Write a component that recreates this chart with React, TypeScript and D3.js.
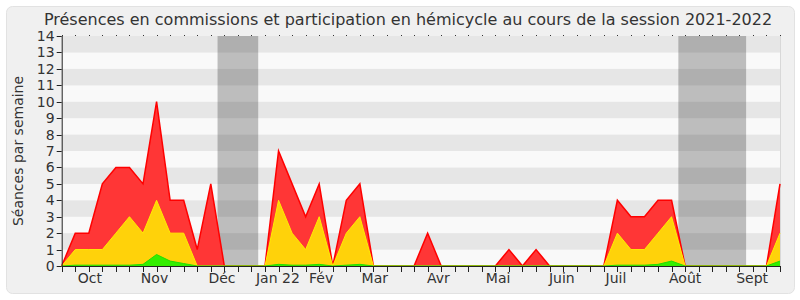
import React from "react";
import * as d3 from "d3";

const title = "Présences en commissions et participation en hémicycle au cours de la session 2021-2022";
const yTitle = "Séances par semaine";

// weekly values (54 weeks)
const hemicycle = [0,2,2,5,6,6,5,10,4,4,1,5,0,0,0,0,7,5,3,5,0,4,5,0,0,0,0,2,0,0,0,0,0,1,0,1,0,0,0,0,0,4,3,3,4,4,0,0,0,0,0,0,0,5];
const commissions = [0,1,1,1,2,3,2,4,2,2,0,0,0,0,0,0,4,2,1,3,0,2,3,0,0,0,0,0,0,0,0,0,0,0,0,0,0,0,0,0,0,2,1,1,2,3,0,0,0,0,0,0,0,2];
const interventions = [0,0.05,0.05,0.05,0.05,0.05,0.1,0.7,0.3,0.15,0,0,0,0,0,0,0.1,0.05,0.05,0.1,0,0.05,0.1,0,0,0,0,0,0,0,0,0,0,0,0,0,0,0,0,0,0,0.05,0.05,0.05,0.1,0.3,0,0,0,0,0,0,0,0.3];

const monthLabels = ["Oct","Nov","Déc","Jan 22","Fév","Mar","Avr","Mai","Juin","Juil","Août","Sept"];
const monthPos = [2.08,6.85,11.83,15.95,19.14,23.1,27.8,32.2,36.9,40.9,46.0,50.94];

const holidays: [number, number][] = [[11.5,14.5],[45.5,50.5]];
const yTicks = d3.range(0, 15);

export default function App() {
  const W = 800, H = 300;
  const left = 61.7, right = 780, top = 36, bottom = 266;
  const x = d3.scaleLinear().domain([0, hemicycle.length - 1]).range([left, right]);
  const y = d3.scaleLinear().domain([0, 14]).range([bottom, top]);
  const idx = d3.range(hemicycle.length);
  const area = (vals: number[]) =>
    d3.area<number>().x((i) => x(i)).y0(y(0)).y1((i) => y(vals[i]))(idx) || "";
  const line = (vals: number[]) =>
    d3.line<number>().x((i) => x(i)).y((i) => y(vals[i]))(idx) || "";
  const font = "DejaVu Sans, sans-serif";

  return (
    <svg width={W} height={H} style={{ position: "absolute", left: 0, top: 0 }}>
      <rect x={0} y={0} width={W} height={H} fill="#ffffff" />
      <rect x={6.5} y={6.5} width={788} height={287} rx={6} fill="#f0f0f0" stroke="#e2e2e2" />
      <text x={408} y={25} textAnchor="middle" fontFamily={font} fontSize={16} fill="#333">{title}</text>

      {/* stripes */}
      {yTicks.slice(0, 14).map((v) => (
        <rect key={"s" + v} x={left} y={y(v + 1)} width={right - left} height={y(v) - y(v + 1)}
          fill={v % 2 === 1 ? "#e6e6e6" : "#f9f9f9"} />
      ))}
      {/* holidays */}
      {holidays.map(([a, b], k) => (
        <rect key={"h" + k} x={x(a)} y={top} width={x(b) - x(a)} height={bottom - top} fill="rgba(0,0,0,0.24)" />
      ))}
      <line x1={right + 0.5} x2={right + 0.5} y1={top} y2={bottom} stroke="#d8d8d8" />

      {/* areas */}
      <path d={area(hemicycle)} fill="#ff3636" />
      <path d={line(hemicycle)} fill="none" stroke="#ff0000" strokeWidth={1.5} />
      <path d={area(commissions)} fill="#ffd20a" />
      <path d={line(commissions)} fill="none" stroke="#ffee00" strokeWidth={1} />
      <path d={area(interventions)} fill="#33ee00" />
      <path d={line(interventions)} fill="none" stroke="#22dd00" strokeWidth={1} />

      {/* top dots */}
      {idx.map((i) => (
        <rect key={"d" + i} x={Math.round(x(i))} y={top - 1} width={1} height={1} fill="#333" />
      ))}

      {/* axes */}
      <line x1={left} x2={right} y1={bottom + 0.5} y2={bottom + 0.5} stroke="#222" />
      <line x1={left + 0.5} x2={left + 0.5} y1={top} y2={bottom} stroke="#222" />
      {idx.map((i) => (
        <line key={"t" + i} x1={Math.round(x(i)) + 0.5} x2={Math.round(x(i)) + 0.5} y1={bottom} y2={bottom + 6} stroke="#222" />
      ))}
      {yTicks.map((v) => (
        <g key={"y" + v}>
          <line x1={left - 5} x2={left} y1={Math.round(y(v)) + 0.5} y2={Math.round(y(v)) + 0.5} stroke="#222" />
          <text x={left - 7} y={y(v) + 5} textAnchor="end" fontFamily={font} fontSize={14} fill="#333">{v}</text>
        </g>
      ))}
      {monthLabels.map((m, k) => (
        <text key={m} x={x(monthPos[k])} y={283} textAnchor="middle" fontFamily={font} fontSize={14} fill="#333">{m}</text>
      ))}
      <text transform={`translate(23,${(top + bottom) / 2}) rotate(-90)`} textAnchor="middle" fontFamily={font} fontSize={14} fill="#333">{yTitle}</text>
    </svg>
  );
}
